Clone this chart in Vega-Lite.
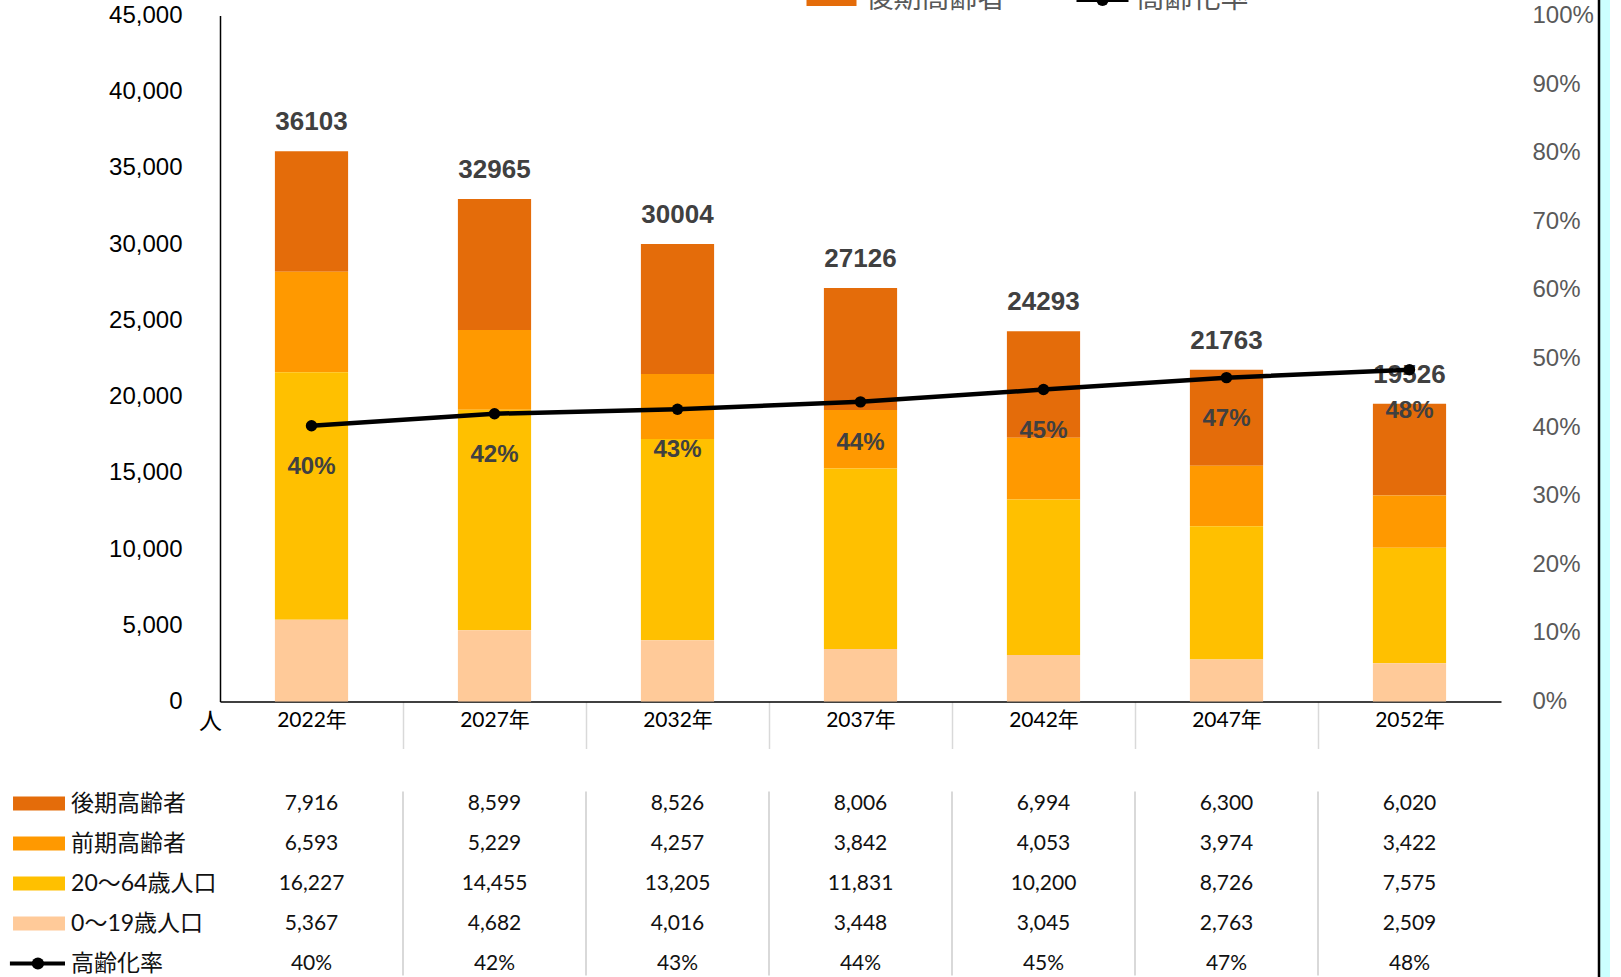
{
  "$schema": "https://vega.github.io/schema/vega-lite/v6.json",
  "padding": {"left": 6, "top": -14.5, "right": 5, "bottom": 5},
  "background": "white",
  "spacing": 90,
  "bounds": "flush",
  "config": {"view": {"stroke": null}, "axis": {"grid": false}},
  "resolve": {"scale": {"x": "independent", "y": "independent", "color": "independent"}},
  "datasets": {
    "pop": [
      {"year": "2022年", "series": "後期高齢者", "value": 7916},
      {"year": "2022年", "series": "前期高齢者", "value": 6593},
      {"year": "2022年", "series": "20〜64歳人口", "value": 16227},
      {"year": "2022年", "series": "0〜19歳人口", "value": 5367},
      {"year": "2027年", "series": "後期高齢者", "value": 8599},
      {"year": "2027年", "series": "前期高齢者", "value": 5229},
      {"year": "2027年", "series": "20〜64歳人口", "value": 14455},
      {"year": "2027年", "series": "0〜19歳人口", "value": 4682},
      {"year": "2032年", "series": "後期高齢者", "value": 8526},
      {"year": "2032年", "series": "前期高齢者", "value": 4257},
      {"year": "2032年", "series": "20〜64歳人口", "value": 13205},
      {"year": "2032年", "series": "0〜19歳人口", "value": 4016},
      {"year": "2037年", "series": "後期高齢者", "value": 8006},
      {"year": "2037年", "series": "前期高齢者", "value": 3842},
      {"year": "2037年", "series": "20〜64歳人口", "value": 11831},
      {"year": "2037年", "series": "0〜19歳人口", "value": 3448},
      {"year": "2042年", "series": "後期高齢者", "value": 6994},
      {"year": "2042年", "series": "前期高齢者", "value": 4053},
      {"year": "2042年", "series": "20〜64歳人口", "value": 10200},
      {"year": "2042年", "series": "0〜19歳人口", "value": 3045},
      {"year": "2047年", "series": "後期高齢者", "value": 6300},
      {"year": "2047年", "series": "前期高齢者", "value": 3974},
      {"year": "2047年", "series": "20〜64歳人口", "value": 8726},
      {"year": "2047年", "series": "0〜19歳人口", "value": 2763},
      {"year": "2052年", "series": "後期高齢者", "value": 6020},
      {"year": "2052年", "series": "前期高齢者", "value": 3422},
      {"year": "2052年", "series": "20〜64歳人口", "value": 7575},
      {"year": "2052年", "series": "0〜19歳人口", "value": 2509}
    ],
    "totals": [
      {"year": "2022年", "total": 36103},
      {"year": "2027年", "total": 32965},
      {"year": "2032年", "total": 30004},
      {"year": "2037年", "total": 27126},
      {"year": "2042年", "total": 24293},
      {"year": "2047年", "total": 21763},
      {"year": "2052年", "total": 19526}
    ],
    "rates": [
      {"year": "2022年", "rate": 0.4019},
      {"year": "2027年", "rate": 0.4195},
      {"year": "2032年", "rate": 0.426},
      {"year": "2037年", "rate": 0.4368},
      {"year": "2042年", "rate": 0.4547},
      {"year": "2047年", "rate": 0.4721},
      {"year": "2052年", "rate": 0.4836}
    ],
    "serieslist": [
      {"series": "後期高齢者"},
      {"series": "前期高齢者"},
      {"series": "20〜64歳人口"},
      {"series": "0〜19歳人口"},
      {"series": "高齢化率"}
    ]
  },
  "vconcat": [
    {
      "width": 1281,
      "height": 686,
      "layer": [
        {
          "layer": [
            {
              "data": {"name": "pop"},
              "mark": {"type": "bar", "width": {"band": 0.4}},
              "encoding": {
                "x": {
                  "field": "year", "type": "ordinal",
                  "scale": {"domain": ["2022年","2027年","2032年","2037年","2042年","2047年","2052年"], "paddingInner": 0, "paddingOuter": 0},
                  "axis": {
                    "title": null, "labelAngle": 0, "tickSize": 47, "tickWidth": 1.5,
                    "tickOffset": -91.5, "labelOffset": 91.5,
                    "tickColor": {"condition": {"test": "datum.value === '2022年'", "value": "rgba(0,0,0,0)"}, "value": "#d9d9d9"},
                    "domainColor": "#000000", "domainWidth": 1.5,
                    "labelPadding": -39, "labelFont": "Lato, Noto Sans CJK JP", "labelFontSize": 21, "labelColor": "#000000"
                  }
                },
                "y": {
                  "field": "value", "type": "quantitative", "stack": "zero",
                  "scale": {"domain": [0, 45000], "nice": false},
                  "axis": {
                    "values": [0,5000,10000,15000,20000,25000,30000,35000,40000,45000], "format": ",d",
                    "ticks": false, "tickSize": 0, "labelPadding": 38,
                    "labelFont": "Liberation Sans", "labelFontSize": 24, "labelColor": "#000000",
                    "domainColor": "#000000", "domainWidth": 1.5,
                    "title": "人", "titleAngle": 0, "titleX": -10, "titleY": 706, "titleAlign": "center", "titleBaseline": "middle",
                    "titleFont": "Noto Sans CJK JP", "titleFontSize": 23, "titleFontWeight": "normal", "titleColor": "#000000"
                  }
                },
                "order": {"field": "series", "type": "ordinal", "sort": "ascending"},
                "color": {
                  "field": "series", "type": "nominal",
                  "scale": {"domain": ["0〜19歳人口","20〜64歳人口","前期高齢者","後期高齢者"], "range": ["#FFCA99","#FFC000","#FF9900","#E46C0A"]},
                  "legend": null
                }
              }
            },
            {
              "data": {"name": "totals"},
              "mark": {"type": "text", "baseline": "alphabetic", "dy": -21, "font": "Liberation Sans", "fontSize": 26, "fontWeight": "bold", "color": "#404040"},
              "encoding": {
                "x": {"field": "year", "type": "ordinal"},
                "y": {"field": "total", "type": "quantitative"},
                "text": {"field": "total", "type": "quantitative", "format": "d"}
              }
            },
            {
              "data": {"name": "serieslist"},
              "transform": [{"filter": "datum.series === '後期高齢者'"}],
              "mark": {"type": "text", "align": "left", "baseline": "middle", "dx": 5, "font": "Noto Sans CJK JP", "fontSize": 28, "color": "#595959"},
              "encoding": {
                "x": {"datum": "2037年", "type": "ordinal"},
                "y": {"datum": 46017, "type": "quantitative"},
                "text": {"field": "series", "type": "nominal"}
              }
            },
            {
              "data": {"name": "serieslist"},
              "transform": [{"filter": "datum.series === '高齢化率'"}],
              "mark": {"type": "text", "align": "left", "baseline": "middle", "dx": 93, "font": "Noto Sans CJK JP", "fontSize": 28, "color": "#595959"},
              "encoding": {
                "x": {"datum": "2042年", "type": "ordinal"},
                "y": {"datum": 46017, "type": "quantitative"},
                "text": {"field": "series", "type": "nominal"}
              }
            },
            {
              "data": {"name": "serieslist"},
              "transform": [{"filter": "datum.series === '後期高齢者'"}],
              "mark": {"type": "point", "shape": "M-1,-0.24H1V0.24H-1Z", "size": 2500, "filled": true, "opacity": 1, "strokeWidth": 0, "color": "#E46C0A", "xOffset": -29},
              "encoding": {
                "x": {"datum": "2037年", "type": "ordinal"},
                "y": {"datum": 46017, "type": "quantitative"}
              }
            },
            {
              "data": {"name": "serieslist"},
              "transform": [{"filter": "datum.series === '高齢化率'"}],
              "mark": {"type": "point", "shape": "M-1,-0.08H1V0.08H-1Z", "size": 2704, "filled": true, "opacity": 1, "strokeWidth": 0, "color": "#000000", "xOffset": 59},
              "encoding": {
                "x": {"datum": "2042年", "type": "ordinal"},
                "y": {"datum": 46017, "type": "quantitative"}
              }
            },
            {
              "data": {"name": "serieslist"},
              "transform": [{"filter": "datum.series === '高齢化率'"}],
              "mark": {"type": "point", "shape": "circle", "size": 150, "filled": true, "opacity": 1, "color": "#000000", "xOffset": 59},
              "encoding": {
                "x": {"datum": "2042年", "type": "ordinal"},
                "y": {"datum": 46017, "type": "quantitative"}
              }
            },
            {
              "data": {"name": "totals"},
              "transform": [{"filter": "datum.year === '2052年'"}],
              "mark": {"type": "rule", "color": "#CCFFFF", "strokeWidth": 10, "xOffset": 195.5},
              "encoding": {
                "x": {"datum": "2052年", "type": "ordinal"},
                "y": {"datum": 46050, "type": "quantitative"},
                "y2": {"datum": -18200}
              }
            },
            {
              "data": {"name": "totals"},
              "transform": [{"filter": "datum.year === '2052年'"}],
              "mark": {"type": "rule", "color": "#000000", "strokeWidth": 2.5, "xOffset": 189.5},
              "encoding": {
                "x": {"datum": "2052年", "type": "ordinal"},
                "y": {"datum": 46050, "type": "quantitative"},
                "y2": {"datum": -18200}
              }
            }
          ]
        },
        {
          "layer": [
            {
              "data": {"name": "rates"},
              "mark": {"type": "line", "color": "#000000", "strokeWidth": 4.5},
              "encoding": {
                "x": {"field": "year", "type": "ordinal"},
                "y": {
                  "field": "rate", "type": "quantitative",
                  "scale": {"domain": [0, 1], "nice": false},
                  "axis": {
                    "orient": "right", "values": [0,0.1,0.2,0.3,0.4,0.5,0.6,0.7,0.8,0.9,1], "format": ".0%",
                    "ticks": false, "tickSize": 0, "domain": false, "labelAlign": "left", "labelPadding": 31,
                    "labelFont": "Liberation Sans", "labelFontSize": 24, "labelColor": "#595959", "title": null
                  }
                }
              }
            },
            {
              "data": {"name": "rates"},
              "mark": {"type": "point", "filled": true, "color": "#000000", "size": 130, "opacity": 1},
              "encoding": {
                "x": {"field": "year", "type": "ordinal"},
                "y": {"field": "rate", "type": "quantitative"}
              }
            },
            {
              "data": {"name": "rates"},
              "mark": {"type": "text", "baseline": "alphabetic", "dy": 48, "font": "Liberation Sans", "fontSize": 24, "fontWeight": "bold", "color": "#404040"},
              "encoding": {
                "x": {"field": "year", "type": "ordinal"},
                "y": {"field": "rate", "type": "quantitative"},
                "text": {"field": "rate", "type": "quantitative", "format": ".0%"}
              }
            }
          ]
        }
      ],
      "resolve": {"scale": {"y": "independent"}}
    },
    {
      "width": 1281,
      "height": 184,
      "layer": [
        {
          "data": {"name": "totals"},
          "transform": [{"filter": "datum.year !== '2022年'"}],
          "mark": {"type": "rule", "color": "#d9d9d9", "strokeWidth": 2},
          "encoding": {
            "x": {"field": "year", "type": "ordinal", "bandPosition": 0,
              "scale": {"type": "band", "domain": ["2022年","2027年","2032年","2037年","2042年","2047年","2052年"], "paddingInner": 0, "paddingOuter": 0},
              "axis": null}
          }
        },
        {
          "data": {"name": "pop"},
          "mark": {"type": "text", "font": "Lato, Noto Sans CJK JP", "fontSize": 21, "color": "#111111"},
          "encoding": {
            "x": {"field": "year", "type": "ordinal",
              "scale": {"type": "band", "domain": ["2022年","2027年","2032年","2037年","2042年","2047年","2052年"], "paddingInner": 0, "paddingOuter": 0},
              "axis": null},
            "y": {"field": "series", "type": "nominal",
              "scale": {"type": "point", "domain": ["後期高齢者","前期高齢者","20〜64歳人口","0〜19歳人口","高齢化率"], "padding": 0.3},
              "axis": null},
            "text": {"field": "value", "type": "quantitative", "format": ","}
          }
        },
        {
          "data": {"name": "rates"},
          "mark": {"type": "text", "font": "Lato, Noto Sans CJK JP", "fontSize": 21, "color": "#111111"},
          "encoding": {
            "x": {"field": "year", "type": "ordinal",
              "scale": {"type": "band", "domain": ["2022年","2027年","2032年","2037年","2042年","2047年","2052年"], "paddingInner": 0, "paddingOuter": 0},
              "axis": null},
            "y": {"datum": "高齢化率", "type": "nominal"},
            "text": {"field": "rate", "type": "quantitative", "format": ".0%"}
          }
        },
        {
          "data": {"name": "serieslist"},
          "mark": {"type": "text", "align": "left", "font": "Lato, Noto Sans CJK JP", "fontSize": 23, "color": "#111111"},
          "encoding": {
            "x": {"datum": -0.814, "type": "quantitative", "scale": {"domain": [0, 7], "nice": false, "zero": false}, "axis": null},
            "y": {"field": "series", "type": "nominal"},
            "text": {"field": "series", "type": "nominal"}
          }
        },
        {
          "data": {"name": "serieslist"},
          "transform": [{"filter": "datum.series !== '高齢化率'"}],
          "mark": {"type": "rule", "strokeWidth": 14, "strokeCap": "butt"},
          "encoding": {
            "x": {"datum": -1.131, "type": "quantitative", "scale": {"domain": [0, 7], "nice": false, "zero": false}, "axis": null},
            "x2": {"datum": -0.847},
            "y": {"field": "series", "type": "nominal"},
            "color": {"field": "series", "type": "nominal",
              "scale": {"domain": ["0〜19歳人口","20〜64歳人口","前期高齢者","後期高齢者"], "range": ["#FFCA99","#FFC000","#FF9900","#E46C0A"]},
              "legend": null}
          }
        },
        {
          "data": {"name": "serieslist"},
          "transform": [{"filter": "datum.series === '高齢化率'"}],
          "mark": {"type": "rule", "strokeWidth": 4, "color": "#000000"},
          "encoding": {
            "x": {"datum": -1.148, "type": "quantitative", "scale": {"domain": [0, 7], "nice": false, "zero": false}, "axis": null},
            "x2": {"datum": -0.847},
            "y": {"field": "series", "type": "nominal"}
          }
        },
        {
          "data": {"name": "serieslist"},
          "transform": [{"filter": "datum.series === '高齢化率'"}],
          "mark": {"type": "point", "filled": true, "size": 150, "color": "#000000", "opacity": 1},
          "encoding": {
            "x": {"datum": -0.995, "type": "quantitative", "scale": {"domain": [0, 7], "nice": false, "zero": false}, "axis": null},
            "y": {"field": "series", "type": "nominal"}
          }
        }
      ],
      "resolve": {"scale": {"x": "independent", "color": "independent"}}
    }
  ]
}
